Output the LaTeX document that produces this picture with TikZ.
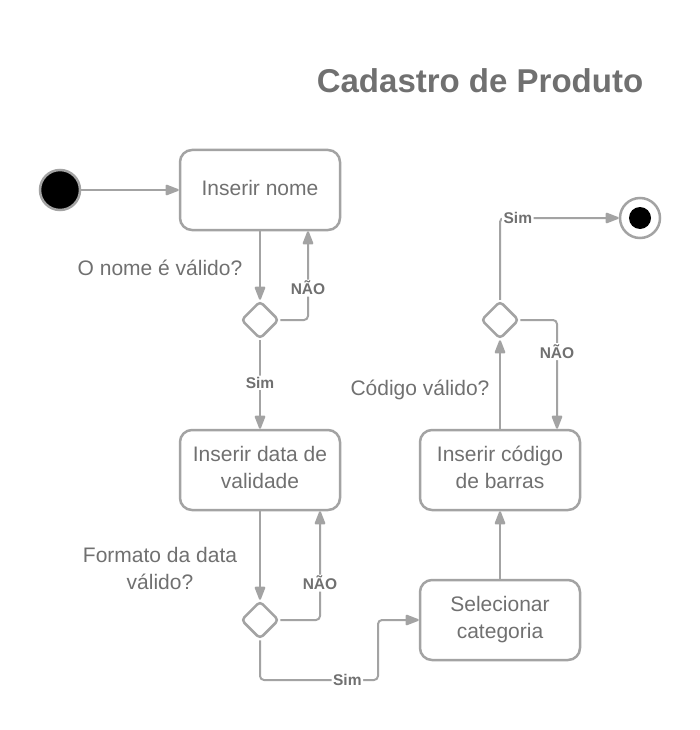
\documentclass[tikz,border=0pt]{standalone}
\usepackage{fontspec}
\setmainfont{Liberation Sans}
\usetikzlibrary{shapes.geometric,arrows.meta}

\newlength{\du}
\setlength{\du}{1pt}

\definecolor{dialinecolor}{rgb}{0.640000, 0.640000, 0.640000}
\definecolor{diatextcolor}{rgb}{0.440000, 0.440000, 0.440000}

\tikzset{
  actbox/.style={draw=dialinecolor, line width=2.5\du, rounded corners=12\du,
    minimum width=160\du, minimum height=80\du, inner sep=0pt, align=center,
    text depth=5\du, text=diatextcolor, font=\fontsize{21}{27}\selectfont},
  decbox/.style={diamond, draw=dialinecolor, line width=2.5\du, rounded corners=4\du,
    minimum width=38\du, minimum height=38\du, inner sep=0pt, fill=white},
  conn/.style={draw=dialinecolor, line width=2\du, rounded corners=4\du,
    -{Triangle[length=15pt,width=11pt,round=false]}},
  guard/.style={fill=white, inner sep=1.5\du, text=diatextcolor,
    font=\bfseries\fontsize{15.5}{18}\selectfont},
  question/.style={anchor=base, align=center, inner sep=0pt, text=diatextcolor,
    font=\fontsize{21}{27}\selectfont},
}

\begin{document}
\begin{tikzpicture}
\pgftransformxscale{1.000000}
\pgftransformyscale{-1.000000}
\useasboundingbox (0\du,0\du) rectangle (700\du,730\du);
% title
\node[anchor=base, text=diatextcolor, font=\bfseries\fontsize{33}{38}\selectfont] (title) at (480\du,93\du) {Cadastro de Produto};
% start and end
\node[circle, draw=dialinecolor, line width=2.5\du, fill=black, minimum size=40\du, inner sep=0pt] (start) at (60\du,190\du) {};
\node[circle, draw=dialinecolor, line width=2.5\du, fill=white, minimum size=40\du, inner sep=0pt] (stop) at (640\du,218\du) {};
\node[circle, fill=black, minimum size=22\du, inner sep=0pt] (stopdot) at (stop) {};
% activities
\node[actbox] (nome) at (260\du,190\du) {Inserir nome};
\node[actbox] (validade) at (260\du,470\du) {Inserir data de\\validade};
\node[actbox] (categoria) at (500\du,620\du) {Selecionar\\categoria};
\node[actbox] (codigo) at (500\du,470\du) {Inserir código\\de barras};
% decisions
\node[decbox] (dnome) at (260\du,320\du) {};
\node[decbox] (dvalidade) at (260\du,620\du) {};
\node[decbox] (dcodigo) at (500\du,320\du) {};
\coordinate (simvia) at (378\du,680\du);
% questions
\node[question] (qnome) at (160\du,275\du) {O nome é válido?};
\node[question] (qvalidade) at (160\du,589\du) {Formato da data\\válido?};
\node[question] (qcodigo) at (420\du,395\du) {Código válido?};
% connectors
\draw[conn] (start) -- (nome.west);
\draw[conn] (nome.south) -- (dnome.north);
\draw[conn] (dnome.east) -| node[guard, pos=0.68] {NÃO} ([xshift=48\du]nome.south);
\draw[conn] (dnome.south) -- node[guard, pos=0.48] {Sim} (validade.north);
\draw[conn] (validade.south) -- (dvalidade.north);
\draw[conn] (dvalidade.east) -| node[guard, pos=0.67] {NÃO} ([xshift=60\du]validade.south);
\draw[conn] (dvalidade.south) |- node[guard, pos=0.87] {Sim} (simvia) |- (categoria.west);
\draw[conn] (categoria.north) -- (codigo.south);
\draw[conn] (codigo.north) -- (dcodigo.south);
\draw[conn] (dcodigo.east) -| node[guard, pos=0.645] {NÃO} ([xshift=57\du]codigo.north);
\draw[conn] (dcodigo.north) |- node[guard, pos=0.575] {Sim} (stop.west);
\end{tikzpicture}
\end{document}
